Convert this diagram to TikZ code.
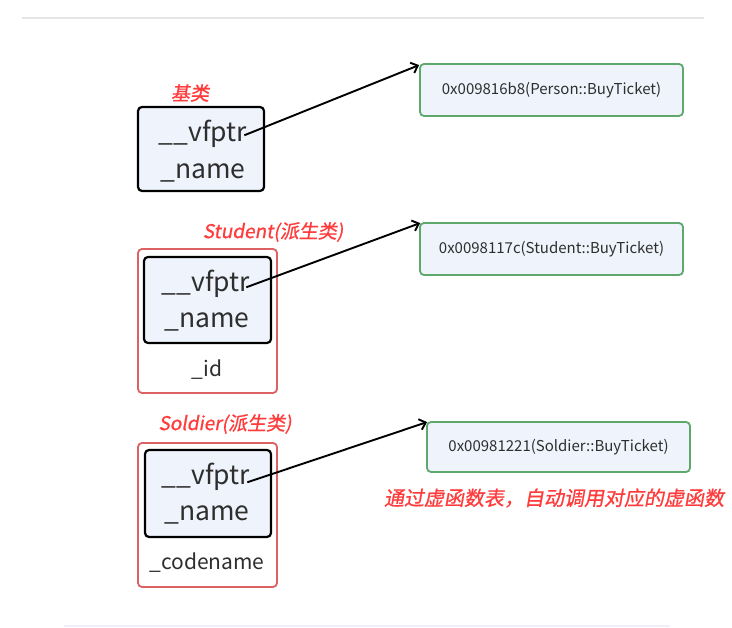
\documentclass[tikz,border=0pt]{standalone}
\usepackage{fontspec}
\setmainfont{Noto Sans CJK SC}
\newfontfamily\labfont[FakeSlant=0.18,FakeBold=0.8]{Noto Sans CJK SC}
\usetikzlibrary{arrows.meta}
\definecolor{boxfill}{HTML}{EFF4FC}
\definecolor{grn}{HTML}{5FA86C}
\definecolor{redb}{HTML}{DB6163}
\definecolor{redt}{HTML}{FF3B3B}
\definecolor{txt}{HTML}{2E2E2E}
\begin{document}
\begin{tikzpicture}[x=1pt,y=-1pt,
  objbox/.style={draw=black,line width=2.2pt,fill=boxfill,rounded corners=4pt,inner sep=0pt},
  outerbox/.style={draw=redb,line width=1.8pt,fill=white,rounded corners=4pt,inner sep=0pt},
  vtab/.style={draw=grn,line width=1.8pt,fill=boxfill,rounded corners=4pt,inner sep=0pt,minimum width=263pt,font=\fontsize{15}{18}\selectfont,text=txt},
  member/.style={font=\fontsize{26.5}{30}\selectfont,text=txt,inner sep=0pt,anchor=base},
  smember/.style={font=\fontsize{21}{25}\selectfont,text=txt,inner sep=0pt,anchor=base},
  title/.style={font=\labfont\fontsize{19}{22}\selectfont,text=redt,inner sep=0pt},
  ptr/.style={line width=1.9pt,-{Straight Barb[length=6pt,width=11pt,line width=1.9pt]}}]
\useasboundingbox (0,0) rectangle (732,628);
\fill[white] (0,0) rectangle (732,628);
\draw[line width=1.5pt,draw=black!10] (22,18) -- (704,18);
\draw[line width=1.5pt,draw=black!12!blue!6] (64,626) -- (670,626);

% base
\node[objbox,minimum width=126pt,minimum height=84pt] (b) at (201,149) {};
\node[member] (bv) at (203,142) {\_\_vfptr};
\node[member] (bn) at (203,179) {\_name};
\node[title] (bt) at (190,93) {基类};

% Student
\node[outerbox,minimum width=139pt,minimum height=144pt] (so) at (207.5,321) {};
\node[objbox,minimum width=127pt,minimum height=86pt] (si) at (207.5,300) {};
\node[member] (sv) at (206,292) {\_\_vfptr};
\node[member] (sn) at (207,328) {\_name};
\node[smember] (sid) at (207,377) {\_id};
\node[title] (st) at (273,232) {Student(派生类)};

% Soldier
\node[outerbox,minimum width=139pt,minimum height=144pt] (do) at (207.5,515) {};
\node[objbox,minimum width=126pt,minimum height=87pt] (di) at (208,493.5) {};
\node[member] (dv) at (206,485) {\_\_vfptr};
\node[member] (dn) at (207,521) {\_name};
\node[smember] (dc) at (207,570) {\_codename};
\node[title] (dt) at (225,424) {Soldier(派生类)};

% vtables
\node[vtab,minimum height=52pt] (g1) at (551.5,90) {0x009816b8(Person::BuyTicket)};
\node[vtab,minimum height=52pt] (g2) at (551.5,249) {0x0098117c(Student::BuyTicket)};
\node[vtab,minimum height=50pt] (g3) at (558.5,447) {0x00981221(Soldier::BuyTicket)};
\node[title,font=\labfont\fontsize{20}{24}\selectfont] (note) at (554,498) {通过虚函数表，自动调用对应的虚函数};

% pointers
\draw[ptr] ([xshift=-3pt,yshift=4pt]bv.mid east) -- ([yshift=-2pt]g1.north west);
\draw[ptr] ([xshift=-4pt,yshift=2pt]sv.mid east) -- ([xshift=1pt,yshift=-1pt]g2.north west);
\draw[ptr] ([xshift=-3pt]dv.mid east) -- ([xshift=1pt,yshift=-1pt]g3.north west);
\end{tikzpicture}
\end{document}
